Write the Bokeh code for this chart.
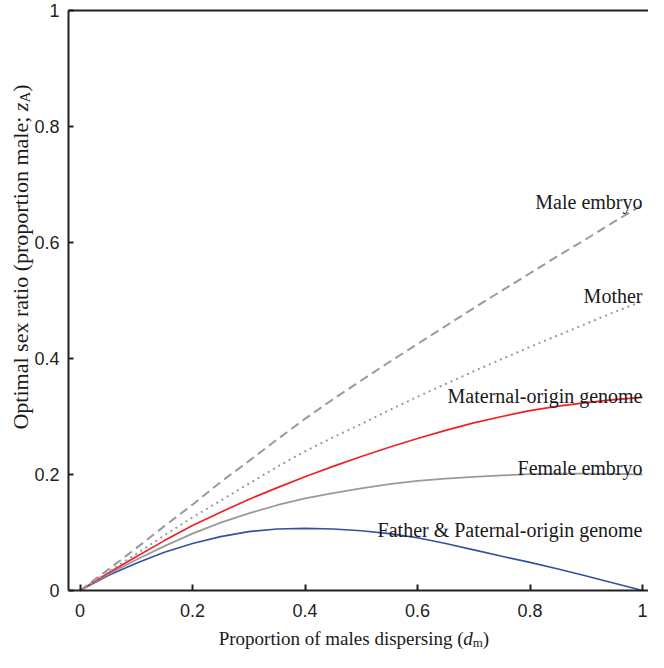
import math
from bokeh.plotting import figure
from bokeh.models import Range1d, FixedTicker, Label, LinearAxis
from bokeh.embed import file_html
from bokeh.resources import INLINE

# ---- data ----
d_m = [0, 0.05, 0.1, 0.15, 0.2, 0.25, 0.3, 0.35, 0.4, 0.45, 0.5, 0.55,
       0.6, 0.65, 0.7, 0.75, 0.8, 0.85, 0.9, 0.95, 1.0]
male_embryo = [0, 0.036, 0.073, 0.111, 0.148, 0.187, 0.223, 0.260, 0.296, 0.330, 0.362, 0.394,
               0.425, 0.456, 0.487, 0.517, 0.547, 0.577, 0.606, 0.636, 0.665]
mother = [0, 0.032, 0.063, 0.095, 0.126, 0.155, 0.184, 0.213, 0.240, 0.264, 0.287, 0.311,
          0.334, 0.356, 0.378, 0.399, 0.420, 0.440, 0.460, 0.480, 0.499]
maternal_origin = [0, 0.030, 0.058, 0.086, 0.112, 0.135, 0.157, 0.177, 0.196, 0.214, 0.231, 0.247,
                   0.262, 0.276, 0.289, 0.300, 0.310, 0.318, 0.324, 0.329, 0.333]
female_embryo = [0, 0.028, 0.053, 0.0765, 0.098, 0.117, 0.133, 0.147, 0.159, 0.168, 0.176, 0.1835,
                 0.189, 0.193, 0.196, 0.1985, 0.2005, 0.2015, 0.2015, 0.201, 0.200]
father_paternal = [0, 0.026, 0.047, 0.066, 0.081, 0.093, 0.1015, 0.106, 0.107, 0.106, 0.103, 0.098,
                   0.091, 0.081, 0.070, 0.059, 0.0485, 0.037, 0.025, 0.0125, 0]

series_names = ["Male embryo", "Mother", "Maternal-origin genome",
                "Female embryo", "Father & Paternal-origin genome"]

x_ticks = [0, 0.2, 0.4, 0.6, 0.8, 1]
x_tick_labels = ["0", "0.2", "0.4", "0.6", "0.8", "1"]
y_ticks = [0, 0.2, 0.4, 0.6, 0.8, 1]
y_tick_labels = ["0", "0.2", "0.4", "0.6", "0.8", "1"]

# ---- styling / geometry ----
AX = "#231f20"
TXT = "#1a1a1a"
GRAY = "#9a9a9a"
RED = "#ee2226"
BLUE = "#3352a3"
SERIF = "Liberation Serif"
SANS = "Liberation Sans"

W, H = 648, 652
PX_PER_X = 562.5
PX_PER_Y = 580.0
X_ORIGIN_PX = 79.5      # canvas px of d_m = 0
Y_ORIGIN_PX = 590.0     # canvas px (from top) of z = 0
XS = -X_ORIGIN_PX / PX_PER_X
XE = (W - X_ORIGIN_PX) / PX_PER_X
YS = -(H - Y_ORIGIN_PX) / PX_PER_Y
YE = Y_ORIGIN_PX / PX_PER_Y
XA = -11.5 / PX_PER_X   # location of the left axis line

p = figure(width=W, height=H, x_range=Range1d(XS, XE), y_range=Range1d(YS, YE),
           x_axis_location=None, y_axis_location=None,
           output_backend="svg", toolbar_location=None, title=None, min_border=0)
p.outline_line_color = None
p.grid.visible = False
p.background_fill_color = "white"
p.border_fill_color = "white"

xaxis = LinearAxis(fixed_location=0, bounds=(XA, XE), ticker=FixedTicker(ticks=x_ticks))
yaxis = LinearAxis(fixed_location=XA, bounds=(0, 1), ticker=FixedTicker(ticks=y_ticks))
topaxis = LinearAxis(fixed_location=1, bounds=(XA, XE), ticker=FixedTicker(ticks=[]))
for ax in (xaxis, yaxis, topaxis):
    ax.axis_line_width = 2
    ax.axis_line_color = AX
    ax.major_tick_line_width = 2
    ax.major_tick_line_color = AX
    ax.major_tick_out = 0
    ax.minor_tick_line_color = None
    ax.major_label_text_font = SANS
    ax.major_label_text_font_size = "18px"
    ax.major_label_text_color = AX
xaxis.major_label_overrides = {t: s for t, s in zip(x_ticks, x_tick_labels)}
yaxis.major_label_overrides = {t: s for t, s in zip(y_ticks, y_tick_labels)}
xaxis.major_tick_in = 6
yaxis.major_tick_in = 5
xaxis.major_label_standoff = 13
yaxis.major_label_standoff = 9
topaxis.major_tick_line_color = None
p.add_layout(xaxis, "below")
p.add_layout(yaxis, "left")
p.add_layout(topaxis, "above")

# ---- curves ----
p.line(d_m, father_paternal, line_color=BLUE, line_width=1.7)
p.line(d_m, female_embryo, line_color=GRAY, line_width=1.8)
p.line(d_m, maternal_origin, line_color=RED, line_width=1.7)
p.line(d_m, mother, line_color=GRAY, line_width=2, line_dash="2 4")
p.line(d_m, male_embryo, line_color=GRAY, line_width=2, line_dash="9 5")

# ---- curve labels ----
label_y = [0.669, 0.507, 0.336, 0.211, 0.105]
for name, ly in zip(series_names, label_y):
    p.add_layout(Label(x=1.0, y=ly, text=name, text_align="right", text_baseline="alphabetic",
                       text_font=SERIF, text_font_size="20px", text_color=TXT))

common = dict(text_baseline="alphabetic", text_align="left", text_font=SERIF, text_color=TXT)

# ---- x axis title: Proportion of males dispersing (d_m) ----
fs, sub = 19, 13
w1 = 12.868 * fs / PX_PER_X
w2 = 0.5 * fs / PX_PER_X
w3 = 0.778 * sub / PX_PER_X
total = w1 + w2 + w3 + 0.333 * fs / PX_PER_X
xs = 0.487 - total / 2
yb = -48.0 / PX_PER_Y
p.add_layout(Label(x=xs, y=yb, text="Proportion of males dispersing (", text_font_size=f"{fs}px", **common))
p.add_layout(Label(x=xs + w1, y=yb, text="d", text_font_style="italic", text_font_size=f"{fs}px", **common))
p.add_layout(Label(x=xs + w1 + w2, y=yb - 4 / PX_PER_Y, text="m", text_font_size=f"{sub}px", **common))
p.add_layout(Label(x=xs + w1 + w2 + w3, y=yb, text=")", text_font_size=f"{fs}px", **common))

# ---- y axis title: Optimal sex ratio (proportion male; z_A) ----
fy, suby = 22, 15
v1 = 14.471 * fy / PX_PER_Y
v2 = 0.389 * fy / PX_PER_Y
v3 = 0.722 * suby / PX_PER_Y
vtot = v1 + v2 + v3 + 0.333 * fy / PX_PER_Y
ys = 0.575 - vtot / 2
xb = XS + 20.0 / PX_PER_X
rot = dict(angle=math.pi / 2, **common)
p.add_layout(Label(x=xb, y=ys, text="Optimal sex ratio (proportion male; ", text_font_size=f"{fy}px", **rot))
p.add_layout(Label(x=xb, y=ys + v1, text="z", text_font_style="italic", text_font_size=f"{fy}px", **rot))
p.add_layout(Label(x=xb + 4 / PX_PER_X, y=ys + v1 + v2, text="A", text_font_size=f"{suby}px", **rot))
p.add_layout(Label(x=xb, y=ys + v1 + v2 + v3, text=")", text_font_size=f"{fy}px", **rot))

open("out.html", "w").write(file_html(p, INLINE))
